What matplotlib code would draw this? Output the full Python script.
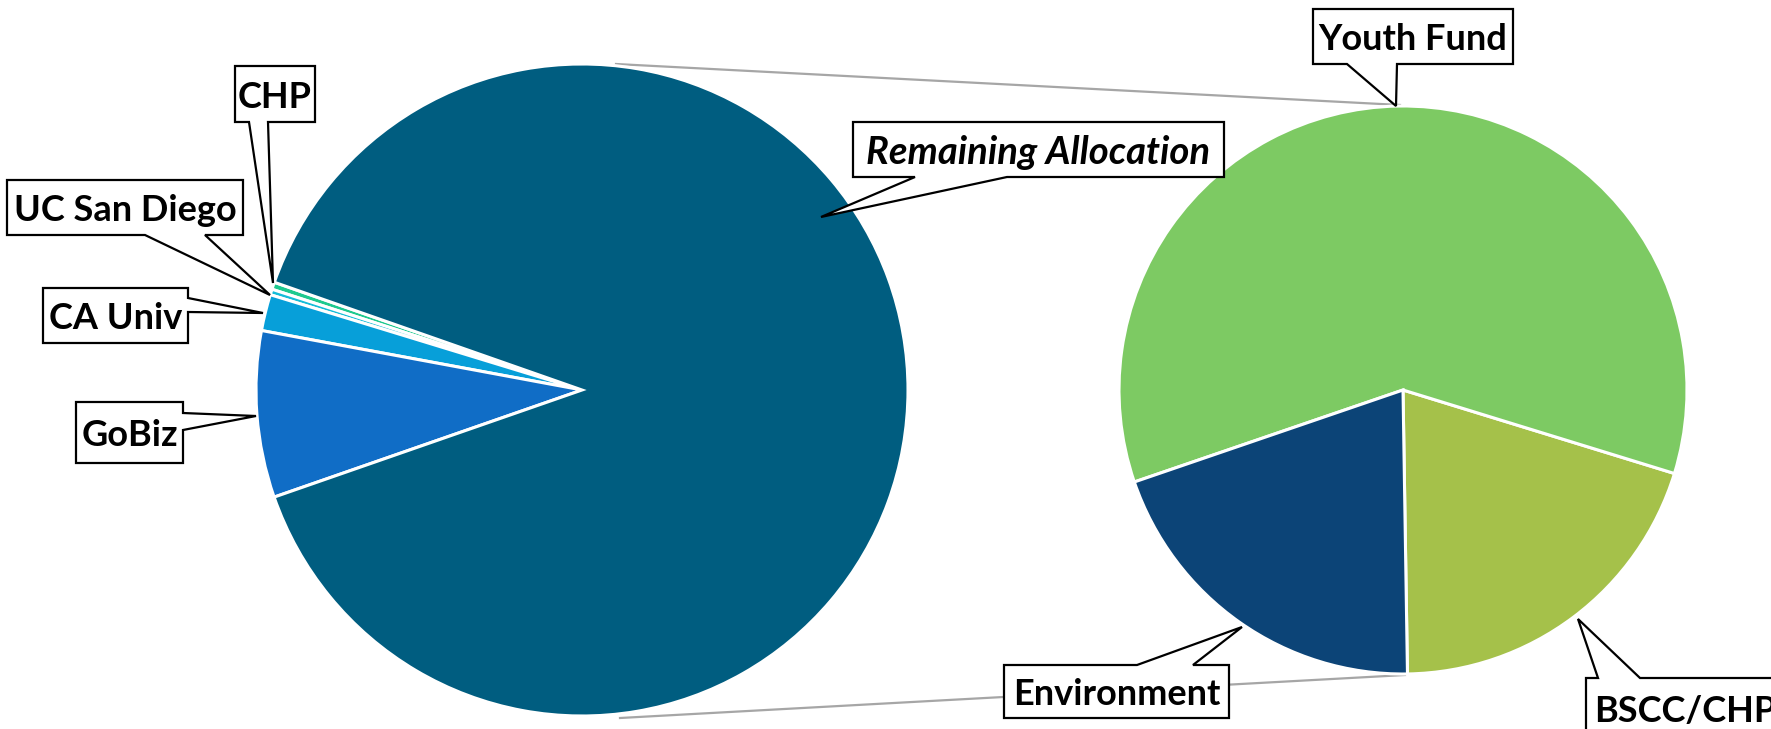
import matplotlib
matplotlib.use('Agg')
import matplotlib.pyplot as plt
from matplotlib.patches import Polygon

W, H = 1771, 729

# left pie: overall allocation
main_labels = ['CHP', 'UC San Diego', 'CA Univ', 'GoBiz', 'Remaining Allocation']
main_values = [0.36, 0.28, 1.8, 8.25, 89.31]
main_colors = ['#1DC98F', '#14BCD8', '#079FD9', '#106DC6', '#005D80']

# right pie: split of the remaining allocation
detail_labels = ['BSCC/CHP', 'Youth Fund', 'Environment']
detail_values = [20, 60, 20]
detail_colors = ['#A5C14A', '#7DCA63', '#0C4477']

FONT = ['Lato', 'DejaVu Sans']


def Y(y):
    # pixel rows run downwards, data y runs upwards
    return H - y


def callout(ax, text, box, side, base, tip, italic=False, text_x=None, size=26):
    x0, y0, x1, y1 = box
    a, b = base
    pts = [(x0, y0)]
    if side == 'top':
        pts += [(a, y0), tip, (b, y0)]
    pts.append((x1, y0))
    if side == 'right':
        pts += [(x1, a), tip, (x1, b)]
    pts.append((x1, y1))
    if side == 'bottom':
        pts += [(b, y1), tip, (a, y1)]
    pts.append((x0, y1))
    pts = [(x, Y(y)) for x, y in pts]
    ax.add_patch(Polygon(pts, closed=True, facecolor='white', edgecolor='black',
                         linewidth=1.6, joinstyle='miter', zorder=5, clip_on=False))
    if text_x is None:
        tx, ha = (x0 + x1) / 2, 'center'
    else:
        tx, ha = text_x, 'left'
    ax.text(tx, Y((y0 + y1) / 2), text, ha=ha, va='center_baseline',
            fontsize=size, fontweight='bold', family=FONT,
            style='italic' if italic else 'normal', zorder=6, clip_on=False)


fig = plt.figure(figsize=(W / 100, H / 100), dpi=100)
ax = fig.add_axes([0, 0, 1, 1])

ax.pie(main_values, colors=main_colors, startangle=160.7, counterclock=True,
       center=(582, Y(390)), radius=326,
       wedgeprops=dict(edgecolor='white', linewidth=2.2))
ax.pie(detail_values, colors=detail_colors, startangle=-89.1, counterclock=True,
       center=(1403, Y(390)), radius=284,
       wedgeprops=dict(edgecolor='white', linewidth=2.2))

# connector lines between the two pies
ax.plot([616, 1400], [Y(64), Y(105)], color='#A6A6A6', lw=1.6, zorder=0.5)
ax.plot([620, 1405], [Y(718), Y(675)], color='#A6A6A6', lw=1.6, zorder=0.5)

callout(ax, 'CHP', (235, 66, 315, 122), 'bottom', (249, 268), (273, 283))
callout(ax, 'UC San Diego', (7, 180, 243, 235), 'bottom', (145, 205), (270, 295))
callout(ax, 'CA Univ', (43, 288, 188, 343), 'right', (298, 312), (263, 313))
callout(ax, 'GoBiz', (76, 402, 183, 463), 'right', (413, 430), (256, 416))
callout(ax, 'Remaining Allocation', (853, 122, 1224, 177), 'bottom', (915, 1007),
        (821, 217), italic=True, size=27.5)
callout(ax, 'Youth Fund', (1313, 9, 1513, 64), 'bottom', (1347, 1397), (1396, 106))
callout(ax, 'Environment', (1004, 665, 1229, 718), 'top', (1137, 1193), (1242, 627))
callout(ax, 'BSCC/CHP', (1586, 678, 1795, 740), 'top', (1598, 1640), (1578, 619),
        text_x=1594)

ax.set_xlim(0, W)
ax.set_ylim(0, H)
ax.set_aspect('equal')
ax.axis('off')

fig.savefig('out.png', dpi=100)
